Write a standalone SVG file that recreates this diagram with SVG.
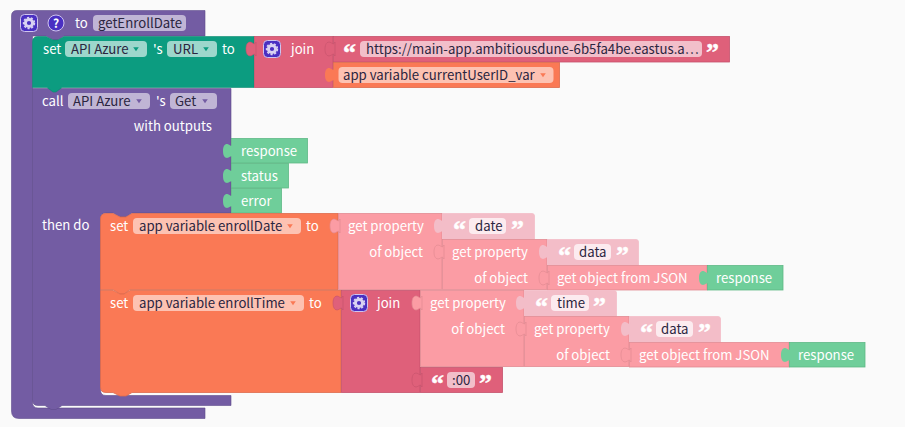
<svg xmlns="http://www.w3.org/2000/svg" xmlns:xlink="http://www.w3.org/1999/xlink" width="905" height="427" viewBox="0 0 905 427">
<style>
text{font-family:"Noto Sans CJK SC","Noto Sans",sans-serif;font-size:13.2px;fill:#fff}
.d{fill:#2b2540}
.e{text-anchor:end}
.q{font-family:"Liberation Serif",serif;font-size:26px;font-weight:bold;stroke:#fff;stroke-width:.4}
.pu{fill:#735ca3;stroke:#5f4b8c;stroke-width:.6}
.gr{fill:#0c9c80;stroke:#0a8a70;stroke-width:.6}
.pk{fill:#df607a;stroke:#c5526b;stroke-width:.8}
.or{fill:#fa7955;stroke:#dd6a4b;stroke-width:.8}
.lp{fill:#fb9ca4;stroke:#e28b92;stroke-width:.8}
.xl{fill:#f3bdc8;stroke:#f3bdc8;stroke-width:.8}
.mi{fill:#6fce9a;stroke:#5fb886;stroke-width:.8}
.tpk{fill:#df607a;stroke:#c5526b;stroke-width:.6}.tor{fill:#fa7955}.tlp{fill:#fb9ca4;stroke:#e28b92;stroke-width:.7}.txl{fill:#f3bdc8}.tmi{fill:#6fce9a}
.f2{fill-opacity:.55;fill:#fff}
.f7{fill-opacity:.7;fill:#fff}
.ap{fill:#735ca3}.ag{fill:#0c9c80}.ao{fill:#fa7955}
</style>
<defs>
<path id="tab" d="M2 -7L1 -5.500C0 -4.500 -1 -6 -3 -6.800C-6 -7.500 -8 -5 -8 0C-8 5 -6 7.500 -3 6.800C-1 6 0 4.500 1 5.500L2 7Z"/>
<g id="gear">
<rect x="-8.500" y="-8.500" width="17" height="17" rx="4" fill="#4a2fc2" stroke="#cfc4ee" stroke-width="1"/>
<circle r="3.600" fill="none" stroke="#d9d2f2" stroke-width="3"/>
<circle r="5.400" fill="none" stroke="#d9d2f2" stroke-width="1.600" stroke-dasharray="2.200 1.600"/>
</g>
<path id="arr" d="M-2.800 -1.800H2.800L0 2.200Z"/>
</defs>
<rect width="905" height="427" fill="#fafafa"/>

<g id="procedure">
<path class="pu" d="M17 10.500H205V36H64L58 40H53L46 36H32.500V402Q32.500 408 38 408H205V418.500H19Q11.500 418.500 11.500 411V16Q11.500 10.500 17 10.500Z"/>
<use xlink:href="#gear" x="29" y="23"/>
<circle cx="56" cy="23" r="8" fill="#4a2fc2" stroke="#cfc4ee"/>
<text x="56" y="27.500" text-anchor="middle" style="font-size:12px;font-weight:bold">?</text>
<text x="75" y="28">to</text>
<rect x="93" y="15" width="93" height="16" rx="4" class="f2"/>
<text x="98" y="28" class="d">getEnrollDate</text>
</g>

<g id="call-api">
<path class="pu" d="M32.500 88.500H231V213H132L126 217H120L113 213H106Q100.500 213 100.500 219V390Q100.500 395.500 106 395.500H231V405.500H62L56 409.500H51L45 405.500H38Q32.500 405.500 32.500 400Z"/>
<rect x="68" y="93" width="82" height="16" rx="4" class="f2"/>
<rect x="170" y="93" width="47" height="16" rx="4" class="f2"/>
<text x="42" y="106">call</text>
<text x="73" y="106" class="d">API Azure</text>
<use xlink:href="#arr" x="139" y="101" class="ap"/>
<text x="156" y="106">'s</text>
<text x="175" y="106" class="d">Get</text>
<use xlink:href="#arr" x="205" y="101" class="ap"/>
<text x="212" y="131" class="e">with outputs</text>
<text x="42" y="230">then do</text>
</g>

<g id="set-url">
<path class="gr" d="M38 36.500H46L53 40H58L64 36.500H254V87.500H62L56 92H53L47 87.500H32.500V42Q32.500 36.500 38 36.500Z"/>
<rect x="65" y="41" width="82" height="16" rx="4" fill="#fff" fill-opacity=".6"/>
<rect x="167" y="41" width="50" height="16" rx="4" fill="#fff" fill-opacity=".6"/>
<text x="43" y="54">set</text>
<text x="71" y="54" class="d">API Azure</text>
<use xlink:href="#arr" x="136" y="49" class="ag"/>
<text x="153" y="54">'s</text>
<text x="173" y="54" class="d">URL</text>
<use xlink:href="#arr" x="206" y="49" class="ag"/>
<text x="222" y="54">to</text>
</g>

<g id="join-url">
<rect class="pk" x="254.500" y="36.500" width="78.500" height="51"/>
<use xlink:href="#tab" x="254" y="49" class="tpk"/>
<use xlink:href="#gear" x="272" y="49"/>
<text x="291" y="54">join</text>
</g>
<g id="text-url">
<rect class="pk" x="333.500" y="36.500" width="396" height="25.500"/>
<use xlink:href="#tab" x="333" y="49" class="tpk"/>
<text x="343" y="61" class="q">“</text>
<rect x="360" y="41" width="342" height="16" rx="4" fill="#fff" fill-opacity=".6"/>
<text x="366" y="54" class="d">https://main-app.ambitiousdune-6b5fa4be.eastus.a…</text>
<text x="706" y="61" class="q">”</text>
</g>
<g id="var-user">
<rect class="or" x="333.500" y="62.500" width="226" height="25"/>
<use xlink:href="#tab" x="333" y="75" class="tor"/>
<rect x="338.500" y="67" width="215" height="16" rx="4" fill="#fff" fill-opacity=".55"/>
<text x="343" y="80" class="d">app variable currentUserID_var</text>
<use xlink:href="#arr" x="543" y="75" class="ao"/>
</g>

<g id="out-response">
<rect class="mi" x="231.500" y="138.500" width="76" height="24.500"/>
<use xlink:href="#tab" x="231" y="151" class="tmi"/>
<text x="241" y="156">response</text>
</g>
<g id="out-status">
<rect class="mi" x="231.500" y="163.500" width="57" height="24.500"/>
<use xlink:href="#tab" x="231" y="176" class="tmi"/>
<text x="241" y="181">status</text>
</g>
<g id="out-error">
<rect class="mi" x="231.500" y="188.500" width="50" height="24.500"/>
<use xlink:href="#tab" x="231" y="201" class="tmi"/>
<text x="241" y="206">error</text>
</g>

<g id="set-date">
<path class="or" d="M106 213.500H113L120 217H126L132 213.500H338V289.500H130L124 294H120L113 289.500H100.500V219Q100.500 213.500 106 213.500Z"/>
<rect x="133" y="218" width="168" height="16" rx="4" fill="#fff" fill-opacity=".55"/>
<text x="110" y="231">set</text>
<text x="139" y="231" class="d">app variable enrollDate</text>
<use xlink:href="#arr" x="290" y="226" class="ao"/>
<text x="306" y="231">to</text>
</g>
<g id="set-time">
<path class="or" d="M100.500 290.500H113L120 294H124L130 290.500H341V392.500H132L126 396H120L113 392.500H106Q100.500 392.500 100.500 387Z"/>
<rect x="133" y="295" width="171" height="16" rx="4" fill="#fff" fill-opacity=".55"/>
<text x="110" y="308">set</text>
<text x="139" y="308" class="d">app variable enrollTime</text>
<use xlink:href="#arr" x="293" y="303" class="ao"/>
<text x="309" y="308">to</text>
</g>

<g id="prop-date">
<rect class="lp" x="338.500" y="213.500" width="103.500" height="76"/>
<use xlink:href="#tab" x="338" y="226" class="tlp"/>
<text x="348" y="231">get property</text>
<text x="423" y="257" class="e">of object</text>
</g>
<g id="text-date">
<path class="xl" d="M442.500 213.500H532Q534.500 213.500 534.500 216V239H442.500Z"/>
<use xlink:href="#tab" x="442" y="226" class="txl"/>
<text x="453" y="238" class="q">“</text>
<rect x="469" y="218" width="37" height="16" rx="4" class="f7"/>
<text x="475" y="231" class="d">date</text>
<text x="511" y="238" class="q">”</text>
</g>
<g id="prop-data1">
<rect class="lp" x="442.500" y="239.500" width="104.500" height="50"/>
<use xlink:href="#tab" x="442" y="252" class="tlp"/>
<text x="452" y="257">get property</text>
<text x="528" y="283" class="e">of object</text>
</g>
<g id="text-data1">
<path class="xl" d="M547.500 239.500H636Q638.500 239.500 638.500 242V265H547.500Z"/>
<use xlink:href="#tab" x="547" y="252" class="txl"/>
<text x="558" y="264" class="q">“</text>
<rect x="574" y="244" width="37" height="16" rx="4" class="f7"/>
<text x="579" y="257" class="d">data</text>
<text x="616" y="264" class="q">”</text>
</g>
<g id="json1">
<rect class="lp" x="547.500" y="265.500" width="159.500" height="24.500"/>
<use xlink:href="#tab" x="547" y="278" class="tlp"/>
<text x="557" y="283">get object from JSON</text>
</g>
<g id="resp1">
<rect class="mi" x="707.500" y="265.500" width="75.500" height="24.500"/>
<use xlink:href="#tab" x="707" y="278" class="tmi"/>
<text x="716" y="283">response</text>
</g>

<g id="join-time">
<rect class="pk" x="341.500" y="290.500" width="78.500" height="102"/>
<use xlink:href="#tab" x="341" y="303" class="tpk"/>
<use xlink:href="#gear" x="359" y="303"/>
<text x="377" y="308">join</text>
</g>
<g id="prop-time">
<rect class="lp" x="420.500" y="290.500" width="103.500" height="76"/>
<use xlink:href="#tab" x="420" y="303" class="tlp"/>
<text x="430" y="308">get property</text>
<text x="505" y="334" class="e">of object</text>
</g>
<g id="text-time">
<path class="xl" d="M524.500 290.500H614Q616.500 290.500 616.500 293V316H524.500Z"/>
<use xlink:href="#tab" x="524" y="303" class="txl"/>
<text x="535" y="315" class="q">“</text>
<rect x="551" y="295" width="38" height="16" rx="4" class="f7"/>
<text x="557" y="308" class="d">time</text>
<text x="593" y="315" class="q">”</text>
</g>
<g id="prop-data2">
<rect class="lp" x="524.500" y="316.500" width="104.500" height="50"/>
<use xlink:href="#tab" x="524" y="329" class="tlp"/>
<text x="534" y="334">get property</text>
<text x="610" y="360" class="e">of object</text>
</g>
<g id="text-data2">
<path class="xl" d="M629.500 316.500H718Q720.500 316.500 720.500 319V342H629.500Z"/>
<use xlink:href="#tab" x="629" y="329" class="txl"/>
<text x="640" y="341" class="q">“</text>
<rect x="656" y="321" width="37" height="16" rx="4" class="f7"/>
<text x="661" y="334" class="d">data</text>
<text x="698" y="341" class="q">”</text>
</g>
<g id="json2">
<rect class="lp" x="629.500" y="342.500" width="159.500" height="24.500"/>
<use xlink:href="#tab" x="629" y="355" class="tlp"/>
<text x="639" y="360">get object from JSON</text>
</g>
<g id="resp2">
<rect class="mi" x="789.500" y="342.500" width="75.500" height="24.500"/>
<use xlink:href="#tab" x="789" y="355" class="tmi"/>
<text x="798" y="360">response</text>
</g>
<g id="text-00">
<rect class="pk" x="420.500" y="367.500" width="82" height="25"/>
<use xlink:href="#tab" x="420" y="380" class="tpk"/>
<text x="431" y="392" class="q">“</text>
<rect x="447" y="372" width="28" height="16" rx="4" fill="#fff" fill-opacity=".6"/>
<text x="452" y="385" class="d">:00</text>
<text x="479" y="392" class="q">”</text>
</g>
</svg>
